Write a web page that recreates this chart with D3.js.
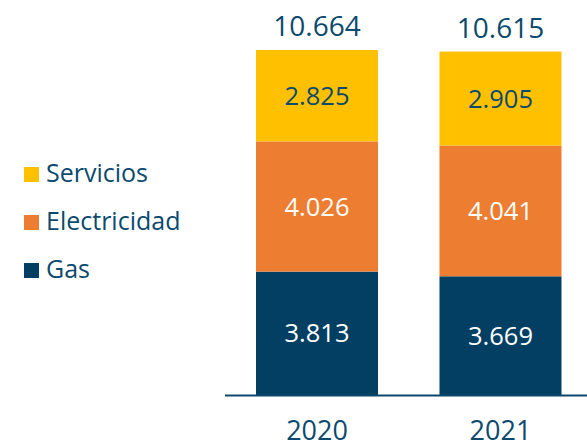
<!DOCTYPE html>
<html><head><meta charset="utf-8">
<script src="https://cdn.jsdelivr.net/npm/d3@7"></script>
<style>html,body{margin:0;padding:0;background:#fff;}svg{display:block;}</style>
</head><body>
<svg id="chart" width="587" height="442"></svg>
<script>
const years = ["2020", "2021"];
const gas = [3813, 3669];
const electricidad = [4026, 4041];
const servicios = [2825, 2905];
const totals = ["10.664", "10.615"];
const seriesNames = ["Gas", "Electricidad", "Servicios"];
const seriesLabels = [["3.813","3.669"],["4.026","4.041"],["2.825","2.905"]];
const colors = ["#023F63", "#ED7D31", "#FFC000"];
const labelColors = ["#ffffff", "#ffffff", "#0b4a6e"];
const textColor = "#0b4a6e";
const font = "'Open Sans', sans-serif";

const svg = d3.select("#chart");
const rows = years.map((yr, i) => ({year: yr, Gas: gas[i], Electricidad: electricidad[i], Servicios: servicios[i]}));
const stacked = d3.stack().keys(seriesNames)(rows);

const x = d3.scaleBand().domain(years).range([226, 591.5]).paddingInner(0.335).paddingOuter(0.1635);
const y = d3.scaleLinear().domain([0, 10664]).range([395, 50]);

stacked.forEach((s, si) => {
  const g = svg.append("g");
  g.selectAll("rect").data(s).enter().append("rect")
    .attr("x", d => x(d.data.year))
    .attr("width", x.bandwidth())
    .attr("y", d => y(d[1]))
    .attr("height", d => y(d[0]) - y(d[1]))
    .attr("fill", colors[si]);
  g.selectAll("text").data(s).enter().append("text")
    .attr("x", d => x(d.data.year) + x.bandwidth() / 2)
    .attr("y", d => (y(d[0]) + y(d[1])) / 2 + 9)
    .attr("text-anchor", "middle")
    .attr("font-family", font).attr("font-size", 25.5)
    .attr("fill", labelColors[si])
    .text((d, i) => seriesLabels[si][i]);
});

// totals
const topSeries = stacked[stacked.length - 1];
svg.append("g").selectAll("text").data(topSeries).enter().append("text")
  .attr("x", d => x(d.data.year) + x.bandwidth() / 2)
  .attr("y", d => y(d[1]) - 14)
  .attr("text-anchor", "middle")
  .attr("font-family", font).attr("font-size", 28)
  .attr("fill", textColor)
  .text((d, i) => totals[i]);

// axis line
svg.append("line").attr("x1", 225).attr("x2", 587).attr("y1", 395.5).attr("y2", 395.5)
  .attr("stroke", "#0b4a6e").attr("stroke-width", 2);

// year labels
const xAxis = d3.axisBottom(x).tickSize(0).tickPadding(0);
const ax = svg.append("g").attr("transform", "translate(0,421)").call(xAxis);
ax.select(".domain").remove();
ax.selectAll("text").attr("font-family", font).attr("font-size", 27)
  .attr("fill", textColor).attr("dy", "0.71em");

// legend
const legendItems = ["Servicios", "Electricidad", "Gas"];
const legendColors = ["#FFC000", "#ED7D31", "#023F63"];
const lg = svg.append("g");
legendItems.forEach((name, i) => {
  const by = 182 + i * 48;
  lg.append("rect").attr("x", 24).attr("y", by - 15).attr("width", 15).attr("height", 15)
    .attr("fill", legendColors[i]);
  lg.append("text").attr("x", 46).attr("y", by)
    .attr("font-family", font).attr("font-size", 25)
    .attr("fill", textColor).text(name);
});
</script>
</body></html>
